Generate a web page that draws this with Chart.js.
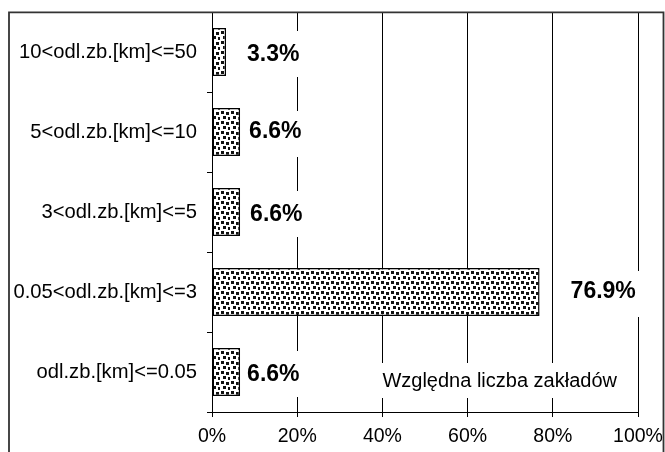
<!DOCTYPE html>
<html>
<head>
<meta charset="utf-8">
<script src="https://cdn.jsdelivr.net/npm/chart.js@4/dist/chart.umd.min.js"></script>
<style>
  html, body { margin: 0; padding: 0; background: #fff; }
  #wrap { width: 665px; height: 452px; position: relative; }
</style>
</head>
<body>
<div id="wrap"><canvas id="c" width="665" height="452"></canvas></div>
<script>
// Distance classes (top to bottom) and the share of plants in each class, in %
const categories = [
  '10<odl.zb.[km]<=50',
  '5<odl.zb.[km]<=10',
  '3<odl.zb.[km]<=5',
  '0.05<odl.zb.[km]<=3',
  'odl.zb.[km]<=0.05'
];
const shares = [3.3, 6.6, 6.6, 76.9, 6.6];
const valueTicks = [0, 20, 40, 60, 80, 100];
const seriesName = 'Względna liczba zakładów';

// Placement tweaks for the value labels: [gap after bar end, vertical shift]
const labelNudge = [[21, 3], [9, 0], [10, 3], [31, 0], [7, 3]];

const FONT = '"Liberation Sans", Arial, sans-serif';

// Confetti-style dot fill for the bars
function dotPattern() {
  const t = document.createElement('canvas');
  t.width = 10; t.height = 10;
  const g = t.getContext('2d');
  g.fillStyle = '#fff';
  g.fillRect(0, 0, 10, 10);
  g.fillStyle = '#111';
  [[1, 1], [6, 2], [3, 6], [8, 7]].forEach(([x, y]) => g.fillRect(x, y, 3, 3));
  return g.createPattern(t, 'repeat');
}

const ctx = document.getElementById('c').getContext('2d');

// Outer frame around the whole figure
const framePlugin = {
  id: 'frame',
  beforeDraw(chart) {
    const c = chart.ctx;
    c.save();
    c.fillStyle = '#fff';
    c.fillRect(0, 0, chart.width, chart.height);
    c.restore();
  },
  afterDraw(chart) {
    const c = chart.ctx;
    c.save();
    c.strokeStyle = '#333';
    c.lineWidth = 1.8;
    c.beginPath();
    c.moveTo(9, 470);
    c.lineTo(9, 12.3);
    c.lineTo(663.5, 12.3);
    c.lineTo(663.5, 470);
    c.stroke();
    c.restore();
  }
};

// Value labels and series caption, each on a white box that hides the grid
const labelPlugin = {
  id: 'valueLabels',
  afterDatasetsDraw(chart) {
    const c = chart.ctx;
    const meta = chart.getDatasetMeta(0);
    c.save();
    c.font = 'bold 23px ' + FONT;
    c.textBaseline = 'middle';
    c.textAlign = 'left';
    meta.data.forEach((bar, i) => {
      const txt = shares[i].toFixed(1) + '%';
      const [dx, dy] = labelNudge[i];
      const x = bar.x + dx;
      const y = bar.y + dy;
      const w = c.measureText(txt).width;
      c.fillStyle = '#fff';
      c.fillRect(x - 6, bar.y - 21, w + 12, 46);
      c.fillStyle = '#000';
      c.fillText(txt, x, y);
    });

    const xs = chart.scales.x;
    const ys = chart.scales.y;
    c.font = '20px ' + FONT;
    c.textBaseline = 'alphabetic';
    const cx = xs.getPixelForValue(40);
    const cy = ys.getPixelForValue(categories.length - 1) + 15;
    const w = c.measureText(seriesName).width;
    c.fillStyle = '#fff';
    c.fillRect(cx - 4, cy - 24, w + 8, 35);
    c.fillStyle = '#000';
    c.fillText(seriesName, cx, cy);
    c.restore();
  }
};

new Chart(ctx, {
  type: 'bar',
  data: {
    labels: categories,
    datasets: [{
      label: seriesName,
      data: shares,
      backgroundColor: dotPattern(),
      borderColor: '#000',
      borderWidth: 1.5,
      borderSkipped: false,
      barPercentage: 0.6,
      categoryPercentage: 1.0
    }]
  },
  options: {
    indexAxis: 'y',
    responsive: false,
    animation: false,
    devicePixelRatio: 1,
    layout: { padding: { left: 0, top: 12, right: 27, bottom: 0 } },
    plugins: {
      legend: { display: false },
      tooltip: { enabled: false }
    },
    scales: {
      x: {
        type: 'linear',
        min: valueTicks[0],
        max: valueTicks[valueTicks.length - 1],
        afterBuildTicks(scale) {
          scale.ticks = valueTicks.map(v => ({ value: v }));
        },
        afterFit(scale) {
          scale.height = 40;
          scale.paddingLeft = 0;
          scale.paddingRight = 0;
        },
        ticks: {
          callback: v => v + '%',
          color: '#000',
          font: { family: FONT, size: 19.5 },
          padding: 8,
          maxRotation: 0
        },
        grid: {
          color: '#000',
          lineWidth: 1,
          tickLength: 5,
          drawTicks: true
        },
        border: { display: true, color: '#000', width: 1 }
      },
      y: {
        type: 'category',
        offset: true,
        afterFit(scale) {
          scale.width = 212;
          scale.paddingTop = 0;
          scale.paddingBottom = 0;
        },
        ticks: {
          color: '#000',
          font: { family: FONT, size: 20.2 },
          padding: 10
        },
        grid: {
          offset: true,
          drawOnChartArea: false,
          color: '#000',
          tickLength: 5
        },
        border: { display: true, color: '#000', width: 1 }
      }
    }
  },
  plugins: [framePlugin, labelPlugin]
});
</script>
</body>
</html>
